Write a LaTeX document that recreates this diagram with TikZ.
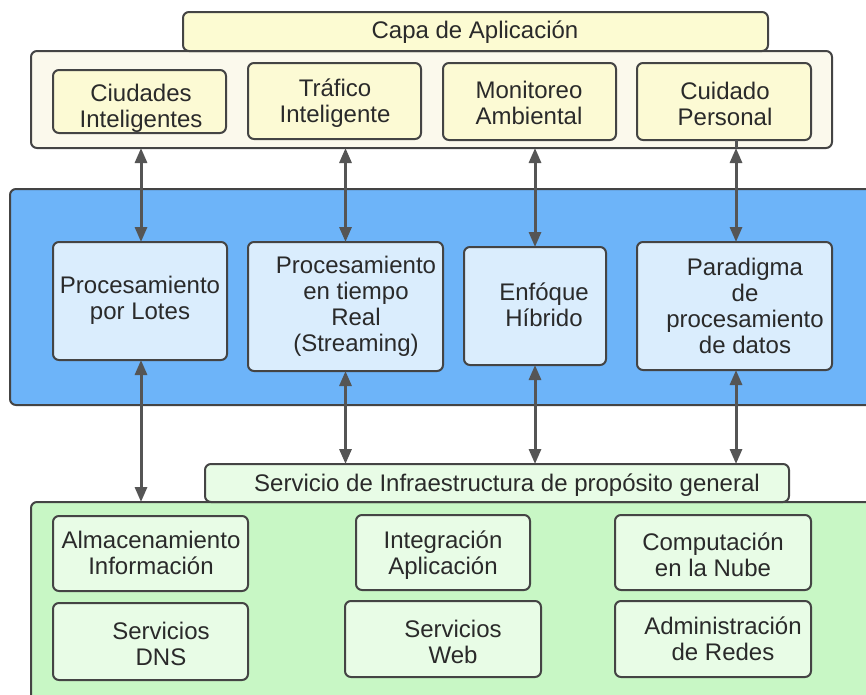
\documentclass[tikz,border=0pt]{standalone}
\usepackage{fontspec}
\setmainfont{Liberation Sans}
\usetikzlibrary{arrows.meta}
\definecolor{edge}{HTML}{444444}
\definecolor{arrowc}{HTML}{555555}
\definecolor{txtc}{HTML}{2A2A2A}
\definecolor{capafill}{HTML}{FCFBD2}
\definecolor{appcont}{HTML}{FBF9EC}
\definecolor{appfill}{HTML}{FCFAD4}
\definecolor{bluebg}{HTML}{6DB4F9}
\definecolor{bluebox}{HTML}{DAEDFD}
\definecolor{greenbg}{HTML}{C8F7C5}
\definecolor{greenbox}{HTML}{E8FCE6}
\tikzset{
  base/.style={draw=edge, line width=2pt, rounded corners=6pt, inner sep=0pt, outer sep=0pt},
  capabox/.style={base, fill=capafill},
  appcbox/.style={base, fill=appcont},
  appbox/.style={base, fill=appfill},
  bandbox/.style={base, fill=bluebg},
  procbox/.style={base, fill=bluebox},
  greencont/.style={base, fill=greenbg},
  infbox/.style={base, fill=greenbox},
  txt/.style={text=txtc, align=center, font=\fontsize{24}{26}\selectfont, inner sep=0pt, yshift=-2pt},
  conn/.style={draw=arrowc, line width=3pt, {Triangle[length=15pt,width=12pt]}-{Triangle[length=15pt,width=12pt]}},
  seg/.style={draw=arrowc, line width=3pt}
}
\newcommand{\bx}[6]{% style, name, x1, y1, x2, y2
  \pgfmathsetmacro{\bw}{#5-#3}\pgfmathsetmacro{\bh}{#6-#4}
  \node[#1, minimum width=\bw pt, minimum height=\bh pt] (#2) at ({(#3+#5)/2},{(#4+#6)/2}) {};
}
\begin{document}
\begin{tikzpicture}[x=1pt,y=-1pt]
\useasboundingbox (0,0) rectangle (866,694);
% containers
\bx{appcbox}{appc}{31}{51}{832}{148}
\bx{capabox}{capa}{183}{12}{768}{51}
\bx{bandbox}{band}{10}{189}{900}{405}
\bx{greencont}{green}{31}{502}{900}{740}
\bx{infbox}{serv}{205}{464}{789}{502}
% application boxes
\bx{appbox}{ciud}{53}{70}{226}{133}
\bx{appbox}{traf}{248}{63}{421}{139}
\bx{appbox}{moni}{443}{63}{616}{140}
\bx{appbox}{cuid}{637}{63}{811}{140}
% processing boxes
\bx{procbox}{lotes}{53}{242}{227}{360}
\bx{procbox}{stream}{248}{242}{443}{371}
\bx{procbox}{hibr}{464}{247}{606}{365}
\bx{procbox}{para}{637}{242}{832}{370}
% infrastructure boxes
\bx{infbox}{alma}{53}{516}{248}{591}
\bx{infbox}{dns}{53}{603}{248}{680}
\bx{infbox}{integ}{356}{515}{530}{590}
\bx{infbox}{web}{345}{601}{541}{677}
\bx{infbox}{nube}{615}{515}{811}{590}
\bx{infbox}{redes}{615}{601}{811}{677}
% texts
\node[txt] (tcapa) at (475,30) {Capa de Aplicación};
\node[txt] (tciud) at (141,106.5) {Ciudades\\Inteligentes};
\node[txt] (ttraf) at (335,101) {Tráfico\\Inteligente};
\node[txt] (tmoni) at (529,101) {Monitoreo\\Ambiental};
\node[txt] (tcuid) at (725,102) {Cuidado\\Personal};
\node[txt] (tlotes) at (140,298) {Procesamiento\\por Lotes};
\node[txt] (tstream) at (356,304) {Procesamiento\\en tiempo\\Real\\(Streaming)};
\node[txt] (thibr) at (544,303) {Enfóque\\Híbrido};
\node[txt] (tpara) at (745,304) {Paradigma\\de\\procesamiento\\de datos};
\node[txt] (tserv) at (507,483) {Servicio de Infraestructura de propósito general};
\node[txt] (talma) at (151,551) {Almacenamiento\\Información};
\node[txt] (tdns) at (161,642) {Servicios\\DNS};
\node[txt] (tinteg) at (443,553) {Integración\\Aplicación};
\node[txt] (tweb) at (453,640) {Servicios\\Web};
\node[txt] (tnube) at (713,553) {Computación\\en la Nube};
\node[txt] (tredes) at (723,637) {Administración\\de Redes};
% connectors
\draw[conn] ([xshift=1pt]lotes.north |- appc.south) -- ([xshift=1pt]lotes.north);
\draw[conn] (stream.north |- appc.south) -- (stream.north);
\draw[conn] (hibr.north |- appc.south) -- (hibr.north);
\draw[seg] ([xshift=1.5pt]para.north |- cuid.south) -- ([xshift=1.5pt]para.north |- appc.south);
\draw[conn] ([xshift=1.5pt]para.north |- appc.south) -- ([xshift=1.5pt]para.north);
\draw[conn] ([xshift=1pt]lotes.south) -- ([xshift=1pt]lotes.south |- green.north);
\draw[conn] (stream.south) -- (stream.south |- serv.north);
\draw[conn] (hibr.south) -- (hibr.south |- serv.north);
\draw[conn] ([xshift=1.5pt]para.south) -- ([xshift=1.5pt]para.south |- serv.north);
\end{tikzpicture}
\end{document}
